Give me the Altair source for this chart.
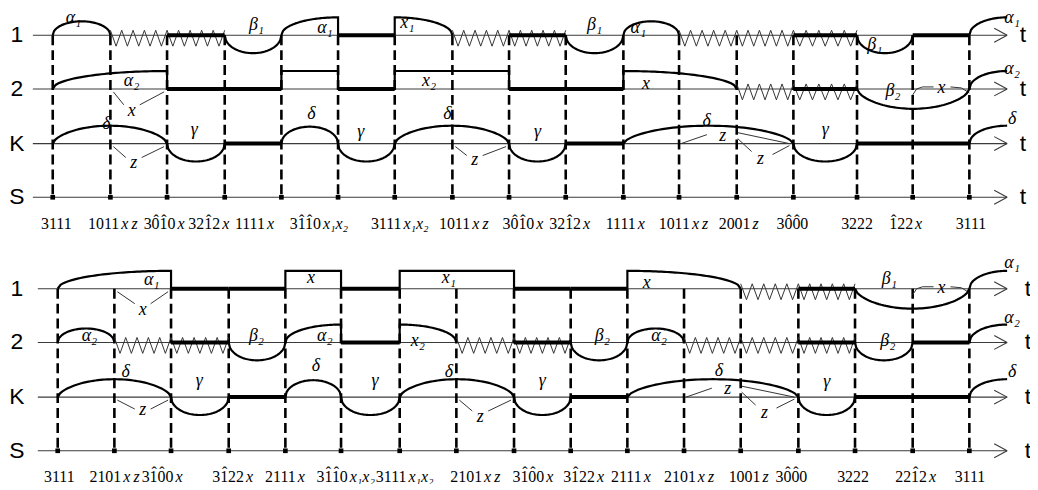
import altair as alt
import numpy as np
import pandas as pd

# ---------------- data ----------------
row_names = ["1", "2", "K", "S"]

# transition instants (time axis, same units as the picture's time axis)
top_times = [53, 111, 168, 226, 283, 340, 397, 455, 512, 569, 627, 683, 741, 798, 862, 918, 975]
bottom_times = [58, 115, 172, 230, 287, 343, 402, 459, 517, 574, 631, 688, 745, 803, 860, 918, 975]

# state codes written under the S axis (U+0302 marks a hatted digit)
top_states = ["3111", "1011xz", "30\u03021\u03020x", "321\u03022x", "1111x",
              "31\u03021\u03020x\u2081x\u2082", "3111x\u2081x\u2082", "1011xz",
              "30\u03021\u03020x", "321\u03022x", "1111x", "1011xz", "2001z",
              "30\u03020\u03020", "3222", "1\u030222x", "3111"]
bottom_states = ["3111", "2101xz", "31\u03020\u03020x", "31\u030222x", "2111x",
                 "31\u03021\u03020x\u2081x\u2082", "3111x\u2081x\u2082", "2101xz",
                 "31\u03020\u03020x", "31\u030222x", "2111x", "2101xz", "1001z",
                 "30\u03020\u03020", "3222", "221\u03022x", "3111"]

# waveform pieces: A+ arc up, A- arc down, R rise, F fall, P pulse,
# T thick level, Z zigzag, TZ thick level over zigzag
wave_a_kinds = ["A+", "Z", "TZ", "A-", "R", "T", "F", "Z", "TZ", "A-", "A+", "Z", "Z", "TZ", "A-", "T"]
wave_a_spans = [1, 1, 1, 1, 1, 1, 1, 1, 1, 1, 1, 1, 1, 1, 1, 1]
wave_b_kinds = ["R", "T", "T", "P", "T", "P", "T", "T", "F", "Z", "TZ", "A-"]
wave_b_spans = [2, 1, 1, 1, 1, 2, 1, 1, 2, 1, 1, 2]
wave_k_kinds = ["A+", "A-", "T", "A+", "A-", "A+", "A-", "T", "A+", "A-", "T"]
wave_k_spans = [2, 1, 1, 1, 1, 2, 1, 1, 3, 1, 2]

top_row1_names = ["\u03b1\u2081", "", "", "\u03b2\u2081", "\u03b1\u2081", "", "x\u2081", "", "", "\u03b2\u2081", "\u03b1\u2081", "", "", "", "\u03b2\u2081", ""]
top_row2_names = ["\u03b1\u2082", "", "", "", "", "x\u2082", "", "", "x", "", "", "\u03b2\u2082"]
bottom_row1_names = ["\u03b1\u2081", "", "", "x", "", "x\u2081", "", "", "x", "", "", "\u03b2\u2081"]
bottom_row2_names = ["\u03b1\u2082", "", "", "\u03b2\u2082", "\u03b1\u2082", "", "x\u2082", "", "", "\u03b2\u2082", "\u03b1\u2082", "", "", "", "\u03b2\u2082", ""]
k_names = ["\u03b4", "\u03b3", "", "\u03b4", "\u03b3", "\u03b4", "\u03b3", "", "\u03b4", "\u03b3", ""]
tail_names = ["\u03b1\u2081", "\u03b1\u2082", "\u03b4"]
tail_names_bottom = ["\u03b1\u2081", "\u03b1\u2082", "\u03b4"]

# ---------------- layout (placement only) ----------------
top_bases = [34, 88, 143, 197]
bottom_bases = [289, 343, 398, 452]
top_label_centers = [56, 113, 165, 210, 255, 320, 401, 466, 526, 573, 628, 687, 743, 797, 862, 911, 976]
bottom_label_centers = [59, 115, 163, 234, 286, 347, 406, 478, 536, 587, 634, 693, 753, 796, 858, 921, 975]

top_row1_place = [(0.36, -17), None, None, (0.56, -10), (0.77, -7), None, (0.22, -12), None, None,
                  (0.5, -10), (0.27, -7), None, None, None, (0.32, 10), None]
top_row2_place = [(0.69, -8), None, None, None, None, (0.3, -8), None, None, (0.2, -5), None, None, (0.32, 2)]
bottom_row1_place = [(0.83, -9), None, None, (0.46, -11), None, (0.43, -11), None, None, (0.17, -6), None, None, (0.3, -10)]
bottom_row2_place = [(0.56, -6), None, None, (0.49, -6), (0.71, -6), None, (0.32, -1), None, None,
                     (0.56, -6), (0.56, -6), None, None, None, (0.57, -1), None]
top_k_place = [(0.47, -20), (0.47, -14), None, (0.53, -30), (0.4, -12), (0.46, -30), (0.5, -12), None,
               (0.49, -23), (0.5, -14), None]
bottom_k_place = [(0.6, -25), (0.49, -16), None, (0.55, -31), (0.58, -16), (0.43, -25), (0.5, -16), None,
                  (0.535, -26), (0.5, -15), None]
top_tail_dy = [-17, -20, -25]
bottom_tail_dy = [-26, -25, -25]

AXIS_END = 1013
DIGIT_W = 8  # Liberation Serif digit advance at 16px

panels = [
    dict(times=top_times, bases=top_bases, start=33, t_x=1029, states=top_states,
         centers=top_label_centers, label_y=229,
         rows=[(wave_a_kinds, wave_a_spans, top_row1_names, top_row1_place),
               (wave_b_kinds, wave_b_spans, top_row2_names, top_row2_place),
               (wave_k_kinds, wave_k_spans, k_names, top_k_place)],
         tails=tail_names, tail_dy=top_tail_dy,
         pointers=[(1, 1, 2, "x", -7, 22, 16), (2, 1, 2, "z", -5, 20, 14), (2, 7, 8, "z", -6, 17, 12)],
         bracket_row=1),
    dict(times=bottom_times, bases=bottom_bases, start=38, t_x=1034, states=bottom_states,
         centers=bottom_label_centers, label_y=483,
         rows=[(wave_b_kinds, wave_b_spans, bottom_row1_names, bottom_row1_place),
               (wave_a_kinds, wave_a_spans, bottom_row2_names, bottom_row2_place),
               (wave_k_kinds, wave_k_spans, k_names, bottom_k_place)],
         tails=tail_names_bottom, tail_dy=bottom_tail_dy,
         pointers=[(0, 1, 2, "x", 0, 21, 15), (2, 1, 2, "z", 0, 13, 12), (2, 7, 8, "z", -5, 20, 14)],
         bracket_row=0),
]

curve_rows, zig_rows, thick_rows, thin_rows, base_rows, dash_rows = [], [], [], [], [], []
sq_rows, greek_rows, rowname_rows, num_rows, let_rows, ann_rows, hat_rows = [], [], [], [], [], [], []
pid = [0]


def add_path(store, pts):
    pid[0] += 1
    for k, (x, y) in enumerate(pts):
        store.append({"x": float(x), "y": float(y), "pid": pid[0], "o": k})


def amp(kind, span, row):
    if kind == "A+":
        if span == 1:
            return 14 if row < 2 else 17
        return 18
    if kind == "A-":
        return 18 if span == 1 else 20
    return 18


def build(kind, x0, x1, base, h, span):
    p = 0.5 if span == 1 else 0.62
    if kind in ("A+", "A-"):
        s = -1 if kind == "A+" else 1
        xs = np.linspace(x0, x1, 49)
        u = (xs - (x0 + x1) / 2) / ((x1 - x0) / 2)
        ys = base + s * h * np.clip(1 - u ** 2, 0, 1) ** p
        add_path(curve_rows, zip(xs, ys))
    elif kind == "R":
        xs = np.linspace(x0, x1, 41)
        u = (xs - x1) / (x1 - x0)
        ys = base - h * np.sqrt(np.clip(1 - u ** 2, 0, 1))
        add_path(curve_rows, list(zip(xs, ys)) + [(x1, base)])
    elif kind == "F":
        xs = np.linspace(x0, x1, 41)
        u = (xs - x0) / (x1 - x0)
        ys = base - h * np.sqrt(np.clip(1 - u ** 2, 0, 1))
        add_path(curve_rows, [(x0, base)] + list(zip(xs, ys)))
    elif kind == "P":
        add_path(curve_rows, [(x0, base), (x0, base - h), (x1, base - h), (x1, base)])
    if kind in ("Z", "TZ"):
        n = 5 * span
        pts = []
        for k in range(2 * n + 1):
            x = x0 + (x1 - x0) * k / (2 * n)
            y = base + 11 if k % 2 else base - 5
            pts.append((x, y))
        add_path(zig_rows, pts)
    if kind in ("T", "TZ"):
        thick_rows.append({"x": x0, "x2": x1, "y": base, "y2": base})


for pn in panels:
    B = pn["times"]
    bases = pn["bases"]
    for r in range(4):
        base = bases[r]
        base_rows.append({"x": pn["start"], "x2": AXIS_END, "y": base, "y2": base})
        base_rows.append({"x": AXIS_END - 13, "x2": AXIS_END, "y": base - 7, "y2": base})
        base_rows.append({"x": AXIS_END - 13, "x2": AXIS_END, "y": base + 7, "y2": base})
        rowname_rows.append({"x": 17, "y": base, "text": row_names[r]})
        rowname_rows.append({"x": pn["t_x"], "y": base, "text": "t"})
    for t in B:
        dash_rows.append({"x": t, "x2": t, "y": bases[0], "y2": bases[3]})
        sq_rows.append({"x": t, "y": bases[3]})
    for r, (kinds, spans, names, place) in enumerate(pn["rows"]):
        base = bases[r]
        i = 0
        for kind, span, name, pl in zip(kinds, spans, names, place):
            x0, x1 = B[i], B[i + span]
            build(kind, x0, x1, base, amp(kind, span, r), span)
            if name and pl:
                greek_rows.append({"x": x0 + pl[0] * (x1 - x0), "y": base + pl[1], "text": name})
            i += span
        # rising continuation after the last instant
        xs = np.linspace(B[-1], AXIS_END, 25)
        u = (xs - AXIS_END) / (AXIS_END - B[-1])
        ys = base - 18 * np.sqrt(np.clip(1 - u ** 2, 0, 1))
        add_path(curve_rows, zip(xs, ys))
        greek_rows.append({"x": AXIS_END + 5, "y": base + pn["tail_dy"][r], "text": pn["tails"][r]})
    # pointer annotations "x" / "z"
    for (r, i, j, txt, tdx, tdy, ldy) in pn["pointers"]:
        base = bases[r]
        tx = (B[i] + B[j]) / 2 + tdx
        ann_rows.append({"x": tx, "y": base + tdy, "text": txt})
        thin_rows.append({"x": B[i] + 3, "x2": tx - 8, "y": base + 3, "y2": base + ldy})
        thin_rows.append({"x": B[j] - 3, "x2": tx + 8, "y": base + 3, "y2": base + ldy})
    # double "z" annotation on K between instants 11, 12, 13
    base = bases[2]
    b11, b12, b13 = B[11], B[12], B[13]
    thin_rows.append({"x": b11 + 2, "x2": b11 + 28, "y": base, "y2": base - 9})
    ann_rows.append({"x": b11 + 44, "y": base - 8, "text": "z"})
    thin_rows.append({"x": b12 + 1, "x2": b13 - 4, "y": base - 11, "y2": base})
    thin_rows.append({"x": b12 + 1, "x2": b12 + 15, "y": base - 5, "y2": base + 8})
    ann_rows.append({"x": b12 + 24, "y": base + 16, "text": "z"})
    thin_rows.append({"x": b12 + 36, "x2": b13 - 4, "y": base + 11, "y2": base + 2})
    # bracketed "x" above the long beta arc
    base = bases[pn["bracket_row"]]
    b15 = B[15]
    add_path(zig_rows, [(b15, base + 6), (b15 + 4, base), (b15 + 10, base - 2), (b15 + 21, base - 2)])
    add_path(zig_rows, [(b15 + 38, base - 2), (b15 + 49, base - 1), (B[16], base + 4)])
    ann_rows.append({"x": b15 + 29, "y": base - 1, "text": "x"})
    # state labels: digits upright, letters italic, hats drawn over digits
    for s, c in zip(pn["states"], pn["centers"]):
        k = 0
        while k < len(s) and s[k] not in "xz":
            k += 1
        num_raw, let = s[:k], s[k:].replace("xz", "x\u2009z")
        digits, hatted = [], []
        for ch in num_raw:
            if ch == "\u0302":
                hatted.append(len(digits) - 1)
            else:
                digits.append(ch)
        num = "".join(digits)
        num_w = DIGIT_W * len(num)
        let_w = sum({"x": 7.2, "z": 6.3, "\u2009": 2.7}.get(ch, 5.0) for ch in let)
        gap = 2 if let else 0
        anchor = c - (num_w + gap + let_w) / 2 + num_w
        num_rows.append({"x": anchor, "y": pn["label_y"], "text": num})
        if let:
            let_rows.append({"x": anchor + gap, "y": pn["label_y"], "text": let})
        for hk in hatted:
            hat_rows.append({"x": anchor - num_w + DIGIT_W * hk + DIGIT_W / 2 + 0.5,
                             "y": pn["label_y"] - 3.5, "text": "\u02c6"})

# ---------------- chart ----------------
xs = alt.Scale(domain=[8, 1036], nice=False, zero=False)
ys = alt.Scale(domain=[8, 484], nice=False, zero=False, reverse=True)
X = alt.X("x:Q", scale=xs, axis=None)
Y = alt.Y("y:Q", scale=ys, axis=None)


def rules(rows, **kw):
    return alt.Chart(pd.DataFrame(rows)).mark_rule(**kw).encode(x=X, x2="x2:Q", y=Y, y2="y2:Q")


def lines(rows, **kw):
    return alt.Chart(pd.DataFrame(rows)).mark_line(**kw).encode(x=X, y=Y, detail="pid:N", order="o:Q")


def texts(rows, **kw):
    return alt.Chart(pd.DataFrame(rows)).mark_text(color="black", **kw).encode(x=X, y=Y, text="text:N")


chart = alt.layer(
    rules(base_rows, color="#3a3a3a", strokeWidth=1.1),
    rules(dash_rows, color="black", strokeWidth=2.6, strokeDash=[10, 5]),
    lines(zig_rows, color="#333333", strokeWidth=1.0),
    rules(thin_rows, color="#333333", strokeWidth=1.0),
    rules(thick_rows, color="black", strokeWidth=4),
    lines(curve_rows, color="black", strokeWidth=2.2),
    alt.Chart(pd.DataFrame(sq_rows)).mark_square(color="black", size=22, opacity=1).encode(x=X, y=Y),
    texts(rowname_rows, font="Liberation Sans", fontSize=23, baseline="middle", align="center"),
    texts(greek_rows, font="Liberation Serif", fontStyle="italic", fontSize=18, baseline="middle", align="center"),
    texts(ann_rows, font="Liberation Serif", fontStyle="italic", fontSize=18, baseline="middle", align="center"),
    texts(num_rows, font="Liberation Serif", fontSize=16, baseline="alphabetic", align="right"),
    texts(let_rows, font="Liberation Serif", fontStyle="italic", fontSize=16, baseline="alphabetic", align="left"),
    texts(hat_rows, font="Liberation Serif", fontSize=16, baseline="alphabetic", align="center"),
).properties(
    width=1028, height=476, padding=0, autosize=alt.AutoSizeParams(type="none")
).configure_view(stroke=None)

chart.save("out.html", embed_options={"renderer": "svg", "actions": False})
